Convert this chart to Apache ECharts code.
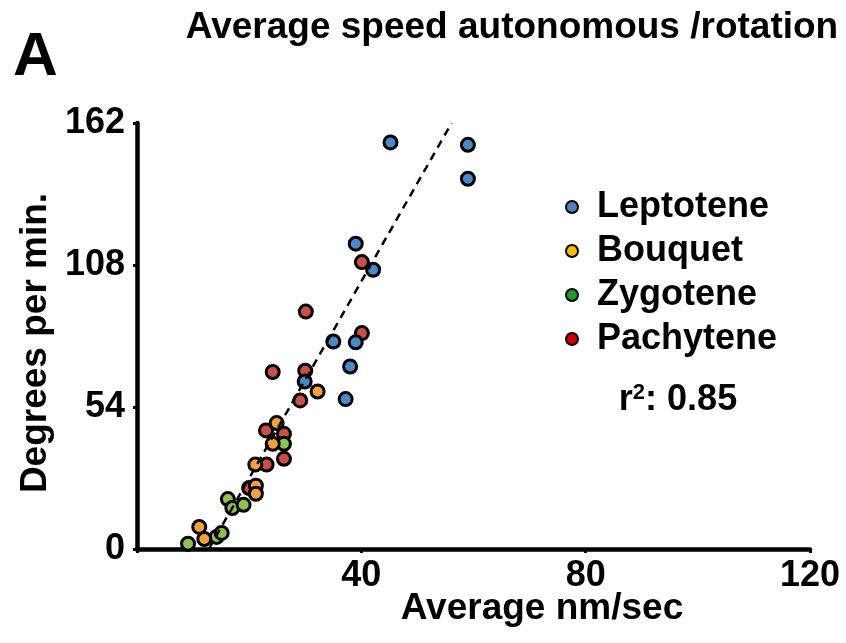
<!DOCTYPE html>
<html>
<head>
<meta charset="utf-8">
<title>Average speed autonomous /rotation</title>
<script src="https://cdn.jsdelivr.net/npm/echarts@6/dist/echarts.min.js"></script>
<style>
  html, body { margin: 0; padding: 0; background: #fff; }
  #chart { width: 846px; height: 643px; }
</style>
</head>
<body>
<div id="chart"></div>
<script>
// values: [nm/sec, degrees per min]
const leptotene = [
  [29.9, 63.7], [37.2, 57.0], [38.0, 69.4], [35.0, 78.9], [39.0, 78.6],
  [39.0, 116.1], [42.1, 106.2], [45.2, 154.6], [59.0, 153.7], [59.0, 140.8]
]
const bouquet = [
  [11.1, 8.4], [12.0, 3.8], [21.2, 24.1], [21.2, 21.0], [21.1, 32.1],
  [24.9, 47.9], [24.2, 40.0], [32.2, 59.9]
]
const zygotene = [
  [9.1, 2.0], [14.2, 4.6], [15.1, 6.1], [16.2, 19.0], [17.0, 15.6],
  [19.0, 16.8], [26.2, 40.0]
]
const pachytene = [
  [20.0, 23.2], [23.1, 32.1], [23.0, 45.1], [26.2, 43.8], [26.2, 34.3],
  [24.2, 67.3], [30.0, 67.8], [29.1, 56.5], [30.1, 90.3], [40.1, 82.1],
  [40.1, 109.1]
]
// regression line end points
const fitLine = [[12.8, 0], [56.1, 162]]

const xTicks = [0, 40, 80, 120]
const yTicks = [0, 54, 108, 162]

const legendNames = ['Leptotene', 'Bouquet', 'Zygotene', 'Pachytene']
const legendColors = ['#4f81bd', '#f5c000', '#1e9a2e', '#cc0000']
const pointColors = {
  Leptotene: '#4a88c8',
  Bouquet: '#f7a03c',
  Zygotene: '#8fc24c',
  Pachytene: '#cc4e48'
}

const font = 'Liberation Sans, Arial, Helvetica, sans-serif'
const chart = echarts.init(document.getElementById('chart'))

function scatter(name, data) {
  return {
    name: name,
    type: 'scatter',
    data: data,
    symbol: 'circle',
    symbolSize: 13,
    itemStyle: {
      color: pointColors[name],
      borderColor: '#000',
      borderWidth: 3,
      opacity: 1
    },
    emphasis: { disabled: true }
  }
}

const option = {
  animation: false,
  backgroundColor: '#fff',
  grid: { left: 137, right: 36, top: 123, bottom: 94 },
  xAxis: {
    type: 'value',
    min: xTicks[0],
    max: xTicks[xTicks.length - 1],
    interval: 40,
    splitLine: { show: false },
    axisLine: { lineStyle: { color: '#000', width: 4.5 } },
    axisTick: { show: true, inside: false, length: 4, lineStyle: { color: '#000', width: 3 } },
    axisLabel: {
      margin: 9,
      color: '#000',
      fontSize: 36,
      fontWeight: 'bold',
      fontFamily: font,
      formatter: v => (v === 0 ? '' : String(v))
    }
  },
  yAxis: {
    type: 'value',
    min: yTicks[0],
    max: yTicks[yTicks.length - 1],
    interval: 54,
    splitLine: { show: false },
    axisLine: { show: true, lineStyle: { color: '#000', width: 4.5 } },
    axisTick: { show: true, inside: false, length: 4, lineStyle: { color: '#000', width: 3 } },
    axisLabel: {
      margin: 12,
      color: '#000',
      fontSize: 36,
      fontWeight: 'bold',
      fontFamily: font
    }
  },
  legend: {
    selectedMode: false,
    orient: 'vertical',
    left: 560,
    top: 184,
    itemWidth: 40,
    itemHeight: 12,
    itemGap: 8,
    textStyle: { color: '#000', fontSize: 36, fontWeight: 'bold', fontFamily: font },
    data: legendNames.map((n, i) => ({
      name: n,
      icon: 'circle',
      itemStyle: { color: legendColors[i], borderColor: '#000', borderWidth: 2 }
    }))
  },
  graphic: [
    {
      type: 'text', x: 13, y: 58,
      style: { text: 'A', font: 'bold 62px ' + font, fill: '#000', verticalAlign: 'middle', align: 'left' }
    },
    {
      type: 'text', x: 512, y: 28,
      style: { text: 'Average speed autonomous /rotation', font: 'bold 37px ' + font, fill: '#000', align: 'center', verticalAlign: 'middle' }
    },
    {
      type: 'text', x: 542, y: 609,
      style: { text: 'Average nm/sec', font: 'bold 37px ' + font, fill: '#000', align: 'center', verticalAlign: 'middle' }
    },
    {
      type: 'text', x: 36, y: 343, rotation: Math.PI / 2,
      style: { text: 'Degrees per min.', font: 'bold 37px ' + font, fill: '#000', align: 'center', verticalAlign: 'middle' }
    },
    {
      type: 'text', x: 678, y: 400,
      style: {
        text: 'r{sup|2}: 0.85',
        font: 'bold 36px ' + font,
        fill: '#000',
        align: 'center',
        verticalAlign: 'middle',
        rich: {
          sup: { fontSize: 22, fontWeight: 'bold', fontFamily: font, fill: '#000', verticalAlign: 'top', padding: [0, 0, 14, 0] }
        }
      }
    }
  ],
  series: [
    {
      name: 'fit',
      type: 'line',
      data: fitLine,
      symbol: 'none',
      silent: true,
      lineStyle: { color: '#000', width: 2.5, type: [8, 6] }
    },
    scatter('Pachytene', pachytene),
    scatter('Zygotene', zygotene),
    scatter('Bouquet', bouquet),
    scatter('Leptotene', leptotene)
  ]
}

chart.setOption(option)
window.addEventListener('resize', () => chart.resize())
</script>
</body>
</html>
